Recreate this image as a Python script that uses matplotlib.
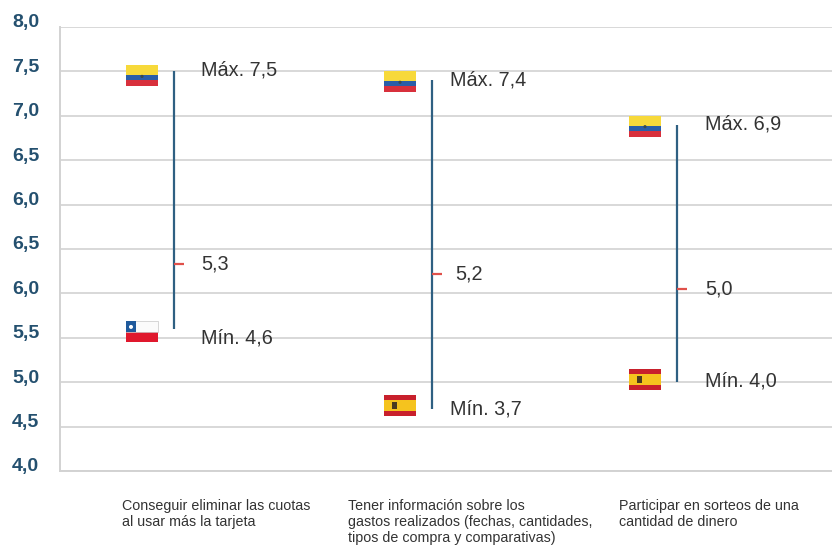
import matplotlib
matplotlib.use('Agg')
import matplotlib.pyplot as plt
from matplotlib.offsetbox import AnnotationBbox, DrawingArea
from matplotlib.patches import Rectangle, Circle
from matplotlib.transforms import ScaledTranslation

plt.rcParams['font.family'] = ['Liberation Sans', 'DejaVu Sans']

# datos
categorias = ['Conseguir eliminar las cuotas\nal usar más la tarjeta',
              'Tener información sobre los\ngastos realizados (fechas, cantidades,\ntipos de compra y comparativas)',
              'Participar en sorteos de una\ncantidad de dinero']
maximos = [7.5, 7.4, 6.9]
minimos = [4.6, 3.7, 4.0]
medias = [5.3, 5.2, 5.0]
banderas_max = ['colombia', 'colombia', 'colombia']
banderas_min = ['chile', 'espana', 'espana']
# las etiquetas del original repiten 6,5 y 6,0
ticks = [8, 7.5, 7, 6.5, 6, 5.5, 5, 4.5, 4, 3.5, 3]
tick_labels = ['8,0', '7,5', '7,0', '6,5', '6,0', '6,5', '6,0', '5,5', '5,0', '4,5', '4,0']

# posiciones en pixeles
xs = [174, 432, 677]
x_cat = [122, 348, 619]
dx_texto = [27, 18, 28]
dx_media = [27, 23, 28]
dy_max_txt = [1, 0, 1]
dy_min_txt = [-9, 0, 1]
dy_media_txt = [3, 2, 4]
dy_media = [2.5, 2, 4]
dy_flag_max = [-4.5, -1.5, -1.5]
dy_flag_min = [-3, 3.5, 2.5]

azul = '#2f6082'
rojo = '#e0504a'
gris = '#d2d2d2'
S = 0.72  # pixeles a puntos
W, H = 32, 21


def coma(v):
    return f'{v:.1f}'.replace('.', ',')


def rect(d, x, y, w, h, c, **kw):
    kw.setdefault('ec', 'none')
    d.add_artist(Rectangle((x * S, y * S), w * S, h * S, fc=c, **kw))


def bandera(nombre):
    d = DrawingArea(W * S, H * S, 0, 0)
    if nombre == 'colombia':
        rect(d, 0, 0, W, 6, '#d8303c')
        rect(d, 0, 6, W, 5, '#2a5ea8')
        rect(d, 0, 11, W, 10, '#f7d93a')
        d.add_artist(Circle((W / 2 * S, 10 * S), 1.6 * S, fc='#3a4a50', ec='none'))
    elif nombre == 'chile':
        rect(d, 0, 0, W, 10, '#e0182d')
        rect(d, 0, 10, W, 11, '#fbfbfb', lw=0.4, ec='#bbbbbb')
        rect(d, 0, 10, 10, 11, '#1f5a9c')
        d.add_artist(Circle((5 * S, 15.5 * S), 2 * S, fc='white', ec='none'))
    else:
        rect(d, 0, 0, W, H, '#c8202c')
        rect(d, 0, 5, W, 11, '#f5c31e')
        rect(d, 8, 7, 5, 7, '#4a3a20')
    return d


fig = plt.figure(figsize=(8.32, 5.47), dpi=100)
ax = fig.add_axes([60 / 832, 1 - 471 / 547, 772 / 832, 444 / 547])
ax.set_xlim(60, 832)
ax.set_ylim(3, 8)

ax.set_yticks(ticks)
ax.set_yticklabels(tick_labels, fontsize=14, fontweight='bold', color='#24506f')
ax.tick_params(axis='y', length=0, pad=15)
ax.set_xticks([])
sube = ScaledTranslation(0, 6 / 100, fig.dpi_scale_trans)
for t in ax.get_yticklabels():
    t.set_transform(t.get_transform() + sube)
ax.grid(axis='y', color=gris, lw=1.2)
ax.set_axisbelow(True)
for s in ['top', 'right']:
    ax.spines[s].set_visible(False)
for s in ['left', 'bottom']:
    ax.spines[s].set_color(gris)
    ax.spines[s].set_linewidth(1.4)

for i, x in enumerate(xs):
    ax.plot([x, x], [minimos[i], maximos[i]], color=azul, lw=1.6, solid_capstyle='butt')
    # marca de la media, un poco por encima del valor como en el original
    tr = ax.transData + ScaledTranslation(0, dy_media[i] / 100, fig.dpi_scale_trans)
    ax.plot([x, x + 10], [medias[i], medias[i]], color=rojo, lw=1.6, solid_capstyle='butt', transform=tr)

    txt = dict(textcoords='offset pixels', va='center', fontsize=14.3, color='#333333')
    ax.annotate(f'Máx. {coma(maximos[i])}', (x, maximos[i]), xytext=(dx_texto[i], dy_max_txt[i]), **txt)
    ax.annotate(f'Mín. {coma(minimos[i])}', (x, minimos[i]), xytext=(dx_texto[i], dy_min_txt[i]), **txt)
    ax.annotate(coma(medias[i]), (x, medias[i]), xytext=(dx_media[i], dy_media_txt[i]), **txt)

    # banderas a la izquierda de la linea
    for nombre, v, dy in [(banderas_max[i], maximos[i], dy_flag_max[i]),
                          (banderas_min[i], minimos[i], dy_flag_min[i])]:
        ab = AnnotationBbox(bandera(nombre), (x, v), xybox=(-32, dy), xycoords='data',
                            boxcoords='offset pixels', frameon=False, pad=0)
        ax.add_artist(ab)

for x_txt, cat in zip(x_cat, categorias):
    ax.annotate(cat, (x_txt, 3), xytext=(0, -28), textcoords='offset pixels', va='top', ha='left',
                fontsize=10.3, color='#333333', linespacing=1.19)

fig.savefig('out.png', dpi=100)
